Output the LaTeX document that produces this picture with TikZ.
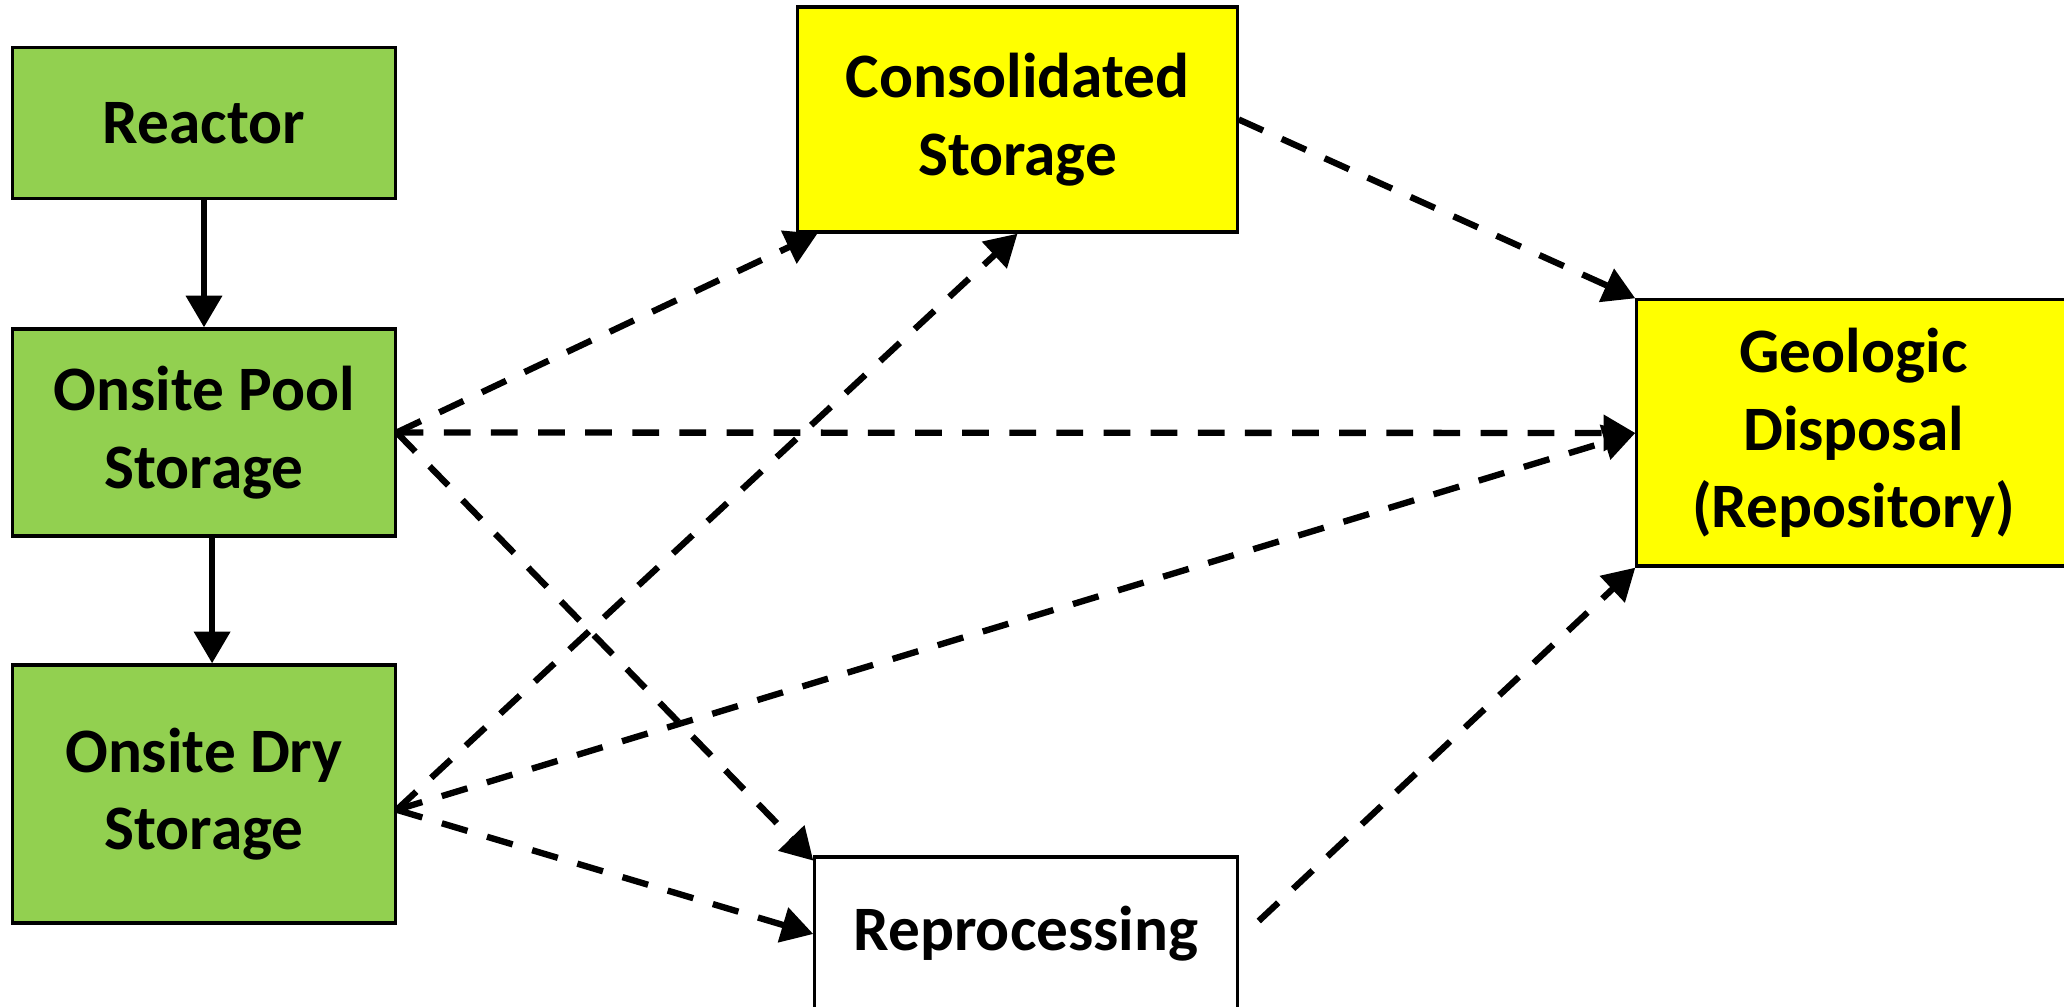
\documentclass[tikz,border=0pt]{standalone}
\usepackage{fontspec}
\setmainfont{Carlito}
\usetikzlibrary{arrows.meta}
\definecolor{sitegreen}{HTML}{92D050}
\definecolor{faryellow}{HTML}{FFFF00}

\begin{document}
\begin{tikzpicture}[x=0.01cm, y=-0.01cm]
	\tikzstyle{box}   = [draw=black, line width=0.9pt, align=center, inner sep=0pt, font=\fontsize{18}{22}\selectfont\bfseries]
	\tikzstyle{site}  = [box, fill=sitegreen, minimum width=3.82cm]
	\tikzstyle{far}   = [box, fill=faryellow]
	\tikzstyle{route} = [line width=1.8pt, -{Triangle[length=9pt, width=10pt]}]
	\tikzstyle{maybe} = [route, dash pattern=on 7.6pt off 5.8pt]

	\useasboundingbox (0,0) rectangle (2064,1007);

	% onsite stages
	\node[site, minimum height=1.51cm] (reactor) at (204,123) {Reactor};
	\node[site, minimum height=2.07cm] (pool) at (204,432.5) {Onsite Pool\\Storage};
	\node[site, minimum height=2.58cm] (dry) at (204,794) {Onsite Dry\\Storage};

	% away from site
	\node[far, minimum width=4.39cm, minimum height=2.25cm] (consol) at (1017.5,119.5) {Consolidated\\Storage};
	\node[far, minimum width=4.33cm, minimum height=2.66cm] (geo) at (1853.5,433) {Geologic\\Disposal\\(Repository)};
	\node[box, fill=white, minimum width=4.22cm, minimum height=1.54cm] (reproc) at (1026,934) {Reprocessing};

	\coordinate (pooldown) at ([xshift=2.3pt]pool.south);
	\coordinate (dryout) at ([yshift=-4.5pt]dry.east);
	\coordinate (consolin) at ([xshift=6pt]consol.south west);
	\coordinate (reprocin) at ([yshift=-1.5pt]reproc.north west);
	\coordinate (reprocout) at ([xshift=5.7pt, yshift=3.7pt]reproc.east);

	\path[route] (reactor) edge (pool);
	\draw[route] (pooldown) -- (pooldown |- dry.north);

	\foreach \from/\to in {pool.east/consolin, pool.east/geo.west, pool.east/reprocin, dryout/consol.south, dryout/geo.west, dryout/reproc.west, consol.east/geo.north west, reprocout/geo.south west}
		\draw[maybe] (\from) -- (\to);
\end{tikzpicture}
\end{document}
